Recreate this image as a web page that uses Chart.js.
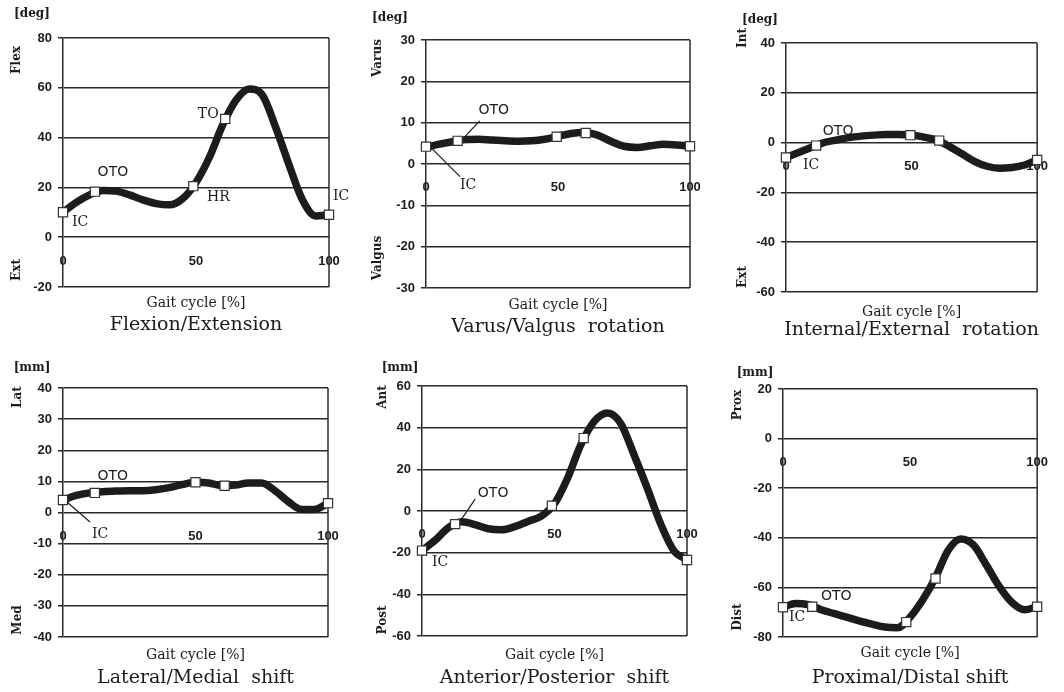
<!DOCTYPE html>
<html>
<head>
<meta charset="utf-8">
<script src="https://cdn.jsdelivr.net/npm/chart.js@4.4.1/dist/chart.umd.min.js"></script>
<style>
  html, body { margin: 0; padding: 0; background: #fff; }
  #wrap { position: relative; width: 1064px; height: 692px; background: #fff; }
  #wrap canvas { position: absolute; left: 0; top: 0; }
</style>
</head>
<body>
<div id="wrap">
  <canvas id="c1" width="1064" height="692"></canvas>
  <canvas id="c2" width="1064" height="692"></canvas>
  <canvas id="c3" width="1064" height="692"></canvas>
  <canvas id="c4" width="1064" height="692"></canvas>
  <canvas id="c5" width="1064" height="692"></canvas>
  <canvas id="c6" width="1064" height="692"></canvas>
</div>
<script>
// --- data ---
const GAIT_PCT = [0, 5, 10, 15, 20, 25, 30, 35, 40, 45, 50, 55, 60, 65, 70, 75, 80, 85, 90, 95, 100];
const X_TICKS = [0, 50, 100];

const FLEX_EXT = [10, 14, 17, 18.8, 18.5, 17, 15, 13.5, 13, 15.5, 22, 32, 45, 55, 59.5, 57, 44, 29, 15, 8.5, 9];
const FLEX_EXT_EV_X = [0, 12, 49, 61, 100];
const FLEX_EXT_EV_Y = [10, 18.3, 20.5, 47.5, 9];
const FLEX_EXT_EV_NAMES = ['IC', 'OTO', 'HR', 'TO', 'IC'];
const FLEX_EXT_TICKS = [-20, 0, 20, 40, 60, 80];

const VAR_VAL = [4, 4.8, 5.4, 5.9, 6, 5.8, 5.6, 5.5, 5.6, 6, 6.7, 7.4, 7.6, 7, 5.5, 4.3, 4, 4.4, 4.8, 4.6, 4.3];
const VAR_VAL_EV_X = [0, 12, 49.5, 60.5, 100];
const VAR_VAL_EV_Y = [4.2, 5.6, 6.6, 7.5, 4.3];
const VAR_VAL_EV_NAMES = ['IC', 'OTO', '', '', ''];
const VAR_VAL_TICKS = [-30, -20, -10, 0, 10, 20, 30];

const INT_EXT = [-6, -4, -2, 0, 1, 2, 2.6, 3, 3.3, 3.3, 3, 2.2, 1, -1.5, -4.5, -7.5, -9.5, -10.3, -10, -9, -7];
const INT_EXT_EV_X = [0, 12, 49.5, 61, 100];
const INT_EXT_EV_Y = [-6, -1.2, 3, 0.8, -7];
const INT_EXT_EV_NAMES = ['IC', 'OTO', '', '', ''];
const INT_EXT_TICKS = [-60, -40, -20, 0, 20, 40];

const LAT_MED = [4, 5.5, 6.3, 6.7, 6.9, 7, 7, 7.3, 8, 9, 9.7, 9.5, 8.6, 8.8, 9.5, 9.5, 7, 3.5, 1, 1, 3];
const LAT_MED_EV_X = [0, 12, 50, 61, 100];
const LAT_MED_EV_Y = [4, 6.3, 9.7, 8.6, 3];
const LAT_MED_EV_NAMES = ['IC', 'OTO', '', '', ''];
const LAT_MED_TICKS = [-40, -30, -20, -10, 0, 10, 20, 30, 40];

const ANT_POST = [-19, -14, -8, -5.2, -6.5, -8.5, -9, -7.5, -5, -2.5, 3.5, 16, 32, 43, 47, 42, 27, 11, -6, -19, -23.5];
const ANT_POST_EV_X = [0, 12.5, 49, 61, 100];
const ANT_POST_EV_Y = [-19, -6.3, 2.5, 35, -23.5];
const ANT_POST_EV_NAMES = ['IC', 'OTO', '', '', ''];
const ANT_POST_TICKS = [-60, -40, -20, 0, 20, 40, 60];

const PROX_DIST = [-68, -66.5, -67, -69, -70.5, -72, -73.5, -74.8, -76, -76.3, -72, -65, -56, -45, -40.5, -43, -51, -59.5, -66, -69, -67.8];
const PROX_DIST_EV_X = [0, 11.5, 48.5, 60, 100];
const PROX_DIST_EV_Y = [-68, -67.8, -74, -56.4, -67.8];
const PROX_DIST_EV_NAMES = ['IC', 'OTO', '', '', ''];
const PROX_DIST_TICKS = [-80, -60, -40, -20, 0, 20];

// --- look ---
const INK = '#1c1c1c';
const GRID = '#2a2a2a';
const TICK_FONT = { family: 'Liberation Sans', size: 13, weight: 'bold' };
const Y_AXIS_W = 48;

const PANELS = [
  { id: 'c1', area: [63, 38, 329, 287], y: FLEX_EXT, evX: FLEX_EXT_EV_X, evY: FLEX_EXT_EV_Y, names: FLEX_EXT_EV_NAMES, ticks: FLEX_EXT_TICKS,
    unit: '[deg]', top: 'Flex', bottom: 'Ext', caption: 'Flexion/Extension',
    unitAt: [-31, -24], topAt: [-46, 22], bottomAt: [-46, -17], gaitDy: 16, capDy: 38,
    notes: [{ dx: 17, dy: 10 }, { dx: 18, dy: -19 }, { dx: 25, dy: 11 }, { dx: -17, dy: -5 }, { dx: 12, dy: -18 }] },
  { id: 'c2', area: [426, 40, 690, 288], y: VAR_VAL, evX: VAR_VAL_EV_X, evY: VAR_VAL_EV_Y, names: VAR_VAL_EV_NAMES, ticks: VAR_VAL_TICKS,
    unit: '[deg]', top: 'Varus', bottom: 'Valgus', caption: 'Varus/Valgus  rotation',
    unitAt: [-36, -22], topAt: [-48, 18], bottomAt: [-48, -30], gaitDy: 17, capDy: 39,
    notes: [{ dx: 42, dy: 39, lead: [6, 2, 34, 30] }, { dx: 36, dy: -30, lead: [6, -3, 22, -20] }] },
  { id: 'c3', area: [786, 43, 1049, 292], y: INT_EXT, evX: INT_EXT_EV_X, evY: INT_EXT_EV_Y, names: INT_EXT_EV_NAMES, ticks: INT_EXT_TICKS,
    unit: '[deg]', top: 'Int', bottom: 'Ext', caption: 'Internal/External  rotation',
    unitAt: [-26, -23], topAt: [-43, -5], bottomAt: [-43, -15], gaitDy: 20, capDy: 38,
    notes: [{ dx: 25, dy: 8 }, { dx: 22, dy: -14 }] },
  { id: 'c4', area: [63, 388, 328, 637], y: LAT_MED, evX: LAT_MED_EV_X, evY: LAT_MED_EV_Y, names: LAT_MED_EV_NAMES, ticks: LAT_MED_TICKS,
    unit: '[mm]', top: 'Lat', bottom: 'Med', caption: 'Lateral/Medial  shift',
    unitAt: [-31, -20], topAt: [-45, 9], bottomAt: [-45, -17], gaitDy: 18, capDy: 41,
    notes: [{ dx: 37, dy: 34, lead: [4, 2, 27, 22] }, { dx: 18, dy: -17 }] },
  { id: 'c5', area: [422, 386, 687, 636], y: ANT_POST, evX: ANT_POST_EV_X, evY: ANT_POST_EV_Y, names: ANT_POST_EV_NAMES, ticks: ANT_POST_TICKS,
    unit: '[mm]', top: 'Ant', bottom: 'Post', caption: 'Anterior/Posterior  shift',
    unitAt: [-22, -18], topAt: [-39, 11], bottomAt: [-39, -16], gaitDy: 19, capDy: 42,
    notes: [{ dx: 18, dy: 12 }, { dx: 38, dy: -31, lead: [5, -3, 20, -25] }] },
  { id: 'c6', area: [783, 389, 1048, 637], y: PROX_DIST, evX: PROX_DIST_EV_X, evY: PROX_DIST_EV_Y, names: PROX_DIST_EV_NAMES, ticks: PROX_DIST_TICKS,
    unit: '[mm]', top: 'Prox', bottom: 'Dist', caption: 'Proximal/Distal shift',
    unitAt: [-28, -16], topAt: [-45, 16], bottomAt: [-45, -20], gaitDy: 16, capDy: 41,
    notes: [{ dx: 14, dy: 10 }, { dx: 24, dy: -10 }] },
];

const decor = {
  id: 'decor',
  beforeDatasetsDraw(chart, args, o) {
    const { ctx, chartArea: a } = chart;
    ctx.save();
    ctx.strokeStyle = GRID;
    ctx.lineWidth = 1.5;
    ctx.beginPath();
    ctx.moveTo(a.right, a.top);
    ctx.lineTo(a.right, a.bottom);
    ctx.stroke();
    ctx.restore();
  },
  afterDatasetsDraw(chart, args, o) {
    const ctx = chart.ctx;
    const pts = chart.getDatasetMeta(1).data;
    ctx.save();
    ctx.fillStyle = INK;
    ctx.strokeStyle = INK;
    ctx.lineWidth = 1.2;
    ctx.textAlign = 'center';
    ctx.textBaseline = 'middle';
    o.notes.forEach((n, i) => {
      const p = pts[i];
      if (!p || !o.names[i]) return;
      if (n.lead) {
        ctx.beginPath();
        ctx.moveTo(p.x + n.lead[0], p.y + n.lead[1]);
        ctx.lineTo(p.x + n.lead[2], p.y + n.lead[3]);
        ctx.stroke();
      }
      ctx.font = o.names[i] === 'OTO' ? '14px "DejaVu Sans"' : '14px "DejaVu Serif"';
      ctx.fillText(o.names[i], p.x + n.dx, p.y + n.dy);
    });
    ctx.restore();
  },
  afterDraw(chart, args, o) {
    const { ctx, chartArea: a } = chart;
    const mid = (a.left + a.right) / 2;
    ctx.save();
    ctx.fillStyle = INK;
    ctx.textAlign = 'center';
    ctx.textBaseline = 'middle';
    ctx.font = 'bold 12px "DejaVu Serif"';
    ctx.fillText(o.unit, a.left + o.unitAt[0], a.top + o.unitAt[1]);
    const side = (txt, x, y) => {
      ctx.save();
      ctx.translate(x, y);
      ctx.rotate(-Math.PI / 2);
      ctx.fillText(txt, 0, 0);
      ctx.restore();
    };
    side(o.top, a.left + o.topAt[0], a.top + o.topAt[1]);
    side(o.bottom, a.left + o.bottomAt[0], a.bottom + o.bottomAt[1]);
    ctx.font = '14px "DejaVu Serif"';
    ctx.fillText('Gait cycle [%]', mid, a.bottom + o.gaitDy);
    ctx.font = '19px "DejaVu Serif"';
    ctx.fillText(o.caption, mid, a.bottom + o.capDy);
    ctx.restore();
  }
};

PANELS.forEach(pn => {
  const [L, T, R, B] = pn.area;
  new Chart(document.getElementById(pn.id), {
    type: 'line',
    data: {
      datasets: [
        {
          data: GAIT_PCT.map((x, i) => ({ x: x, y: pn.y[i] })),
          borderColor: INK,
          borderWidth: 7.5,
          pointRadius: 0,
          cubicInterpolationMode: 'monotone',
          fill: false,
          clip: false,
          order: 1,
        },
        {
          data: pn.evX.map((x, i) => ({ x: x, y: pn.evY[i] })),
          showLine: false,
          pointStyle: 'rect',
          pointRadius: 6.5,
          pointBackgroundColor: '#fff',
          pointBorderColor: '#333',
          pointBorderWidth: 1.2,
          clip: false,
          order: 0,
        },
      ],
    },
    options: {
      responsive: false,
      animation: false,
      events: [],
      layout: { padding: { left: L - Y_AXIS_W, top: T, right: 1064 - R, bottom: 692 - B } },
      scales: {
        x: {
          type: 'linear',
          position: { y: 0 },
          min: 0,
          max: 100,
          afterBuildTicks: s => { s.ticks = X_TICKS.map(v => ({ value: v })); },
          grid: { display: false, drawTicks: false },
          border: { display: false },
          ticks: { font: TICK_FONT, color: INK, padding: 16, maxRotation: 0 },
        },
        y: {
          type: 'linear',
          min: pn.ticks[0],
          max: pn.ticks[pn.ticks.length - 1],
          afterBuildTicks: s => { s.ticks = pn.ticks.map(v => ({ value: v })); },
          afterFit: s => { s.width = Y_AXIS_W; },
          grid: { color: GRID, lineWidth: 1.5, tickLength: 5 },
          border: { display: true, color: GRID, width: 1.5 },
          ticks: { font: TICK_FONT, color: INK, padding: 6 },
        },
      },
      plugins: {
        legend: { display: false },
        tooltip: { enabled: false },
        decor: pn,
      },
    },
    plugins: [decor],
  });
});
</script>
</body>
</html>
